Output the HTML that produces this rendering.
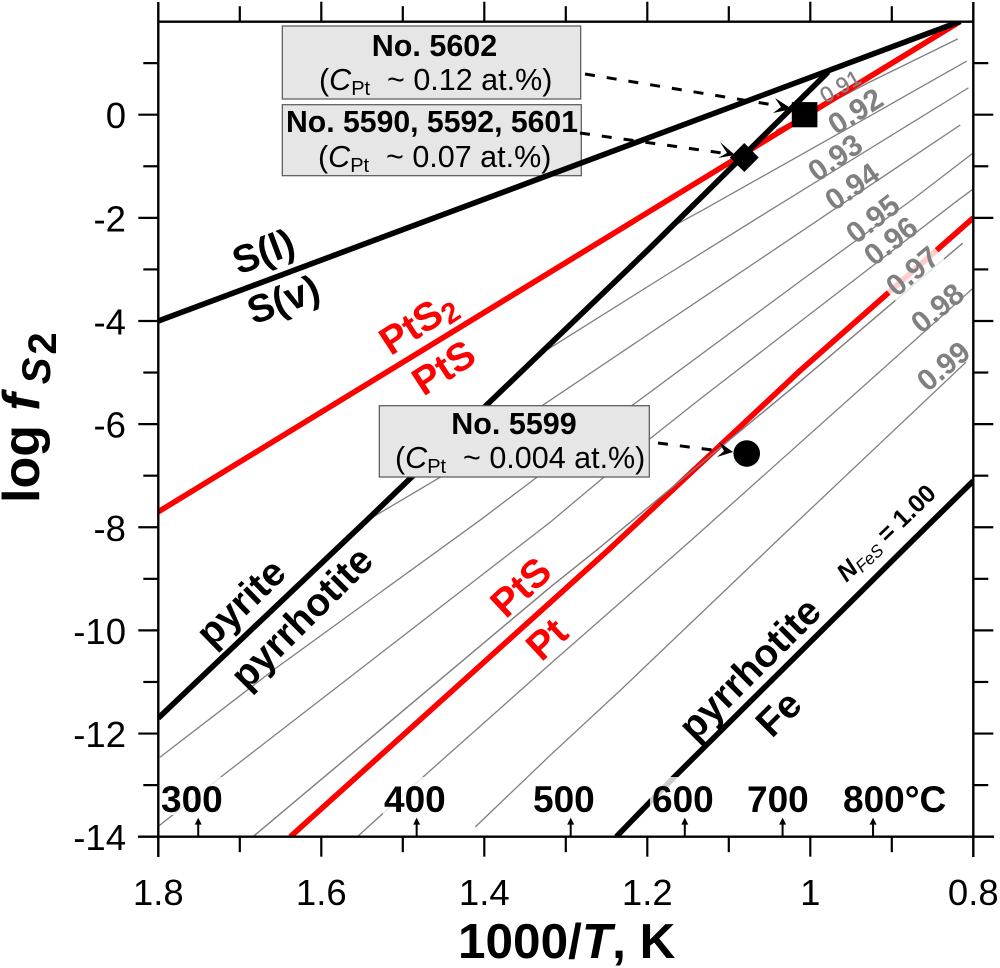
<!DOCTYPE html>
<html>
<head>
<meta charset="utf-8">
<title>log fS2 vs 1000/T</title>
<style>
html,body{margin:0;padding:0;background:#fff;}
svg{display:block;font-family:"Liberation Sans",sans-serif;}
.tl{font-size:36.5px;fill:#000;}
.t{font-size:37px;font-weight:bold;fill:#000;}
.p{font-size:39px;font-weight:bold;fill:#000;}
.r{font-size:39.5px;font-weight:bold;fill:#f00;}
.g{font-size:30px;font-weight:bold;fill:#808080;}
.b1{font-size:30.5px;font-weight:bold;fill:#000;}
.b2{font-size:30.5px;fill:#000;}
.box{fill:#e6e6e6;stroke:#555;stroke-width:1.2;}
.dash{stroke:#000;stroke-width:3;stroke-dasharray:10 12;fill:none;}
</style>
</head>
<body>
<svg id="chart" xmlns="http://www.w3.org/2000/svg" width="1000" height="968" viewBox="0 0 1000 968">
<defs><clipPath id="plot-clip"><rect x="158.3" y="21.7" width="815" height="815"/></clipPath></defs>
<g id="gray-layer" clip-path="url(#plot-clip)"></g>
<g>
<rect class="box" x="282.3" y="104.7" width="299" height="71"/>
<text class="b1" x="432" y="132" text-anchor="middle" textLength="292" lengthAdjust="spacingAndGlyphs">No. 5590, 5592, 5601</text>
<text class="b2" x="318" y="167">(<tspan font-style="italic">C</tspan><tspan font-size="20" dy="5">Pt</tspan><tspan dy="-5" xml:space="preserve">  ~ 0.07 at.%)</tspan></text>
</g>
<g id="line-layer" clip-path="url(#plot-clip)"></g>
<g>
<rect class="box" x="282.3" y="26" width="298.4" height="73"/>
<text class="b1" x="434.5" y="56" text-anchor="middle">No. 5602</text>
<text class="b2" x="319" y="90">(<tspan font-style="italic">C</tspan><tspan font-size="20" dy="5">Pt</tspan><tspan dy="-5" xml:space="preserve">  ~ 0.12 at.%)</tspan></text>
</g>
<g>
<rect class="box" x="379.3" y="405.7" width="270" height="71.3"/>
<text class="b1" x="514" y="434" text-anchor="middle">No. 5599</text>
<text class="b2" x="395" y="468">(<tspan font-style="italic">C</tspan><tspan font-size="20" dy="5">Pt</tspan><tspan dy="-5" xml:space="preserve">  ~ 0.004 at.%)</tspan></text>
</g>
<g>
<path class="dash" d="M585 74 L780 106"/>
<polygon points="792,109 775,98 781,107 773,113"/>
<path class="dash" d="M580 133 L722 153"/>
<polygon points="735,155 720,142 727,153 718,158"/>
<path class="dash" d="M658 443 L720 451"/>
<polygon points="733,452 719,442 724,451 717,457"/>
</g>
<g id="marker-layer"></g>
<g id="axis-layer"></g>
<g>
<rect x="160" y="777" width="62" height="38" fill="#fff" opacity="0.8"/>
<rect x="383" y="777" width="64" height="38" fill="#fff" opacity="0.8"/>
<rect x="533" y="777" width="62" height="38" fill="#fff" opacity="0.8"/>
<rect x="650" y="777" width="62" height="38" fill="#fff" opacity="0.8"/>
<text class="t" x="161" y="812">300</text>
<text class="t" x="384" y="812">400</text>
<text class="t" x="533" y="812">500</text>
<text class="t" x="652" y="812">600</text>
<text class="t" x="747" y="812">700</text>
<text class="t" x="843" y="812">800°C</text>
</g>
<g>
<text class="p" text-anchor="middle" transform="translate(268,264) rotate(-20.5)">S(l)</text>
<text class="p" text-anchor="middle" transform="translate(288,312) rotate(-20.5)">S(v)</text>
<text class="r" text-anchor="middle" transform="translate(425,334) rotate(-33)">PtS<tspan font-size="29" dy="6">2</tspan></text>
<text class="r" text-anchor="middle" transform="translate(451,379) rotate(-33)">PtS</text>
<text class="p" text-anchor="middle" transform="translate(250,612) rotate(-44)">pyrite</text>
<text class="p" text-anchor="middle" transform="translate(311,627) rotate(-45)">pyrrhotite</text>
<text class="r" text-anchor="middle" transform="translate(530,597) rotate(-43)">PtS</text>
<text class="r" text-anchor="middle" transform="translate(556,649) rotate(-43)">Pt</text>
<text class="p" text-anchor="middle" transform="translate(759,678) rotate(-45)">pyrrhotite</text>
<text class="p" text-anchor="middle" transform="translate(788,723) rotate(-45)">Fe</text>
<text font-size="25" font-weight="bold" text-anchor="middle" transform="translate(892,539) rotate(-44)"><tspan font-style="italic">N</tspan><tspan font-size="17" font-style="italic" font-weight="normal" dy="4">FeS</tspan><tspan dy="-4"> = 1.00</tspan></text>
</g>
<g>
<text font-size="22" fill="#808080" stroke="#808080" stroke-width="0.4" text-anchor="middle" transform="translate(844,93) rotate(-30)">0.91</text>
<text class="g" text-anchor="middle" transform="translate(861,120) rotate(-33)">0.92</text>
<text class="g" text-anchor="middle" transform="translate(841,166) rotate(-35)">0.93</text>
<text class="g" text-anchor="middle" transform="translate(858,195) rotate(-35)">0.94</text>
<text class="g" text-anchor="middle" transform="translate(879,227) rotate(-38)">0.95</text>
<text class="g" text-anchor="middle" transform="translate(897,249) rotate(-38)">0.96</text>
<rect x="-32" y="-25" width="64" height="27" fill="#fff" opacity="0.8" transform="translate(919,279) rotate(-40)"/>
<text class="g" text-anchor="middle" transform="translate(919,279) rotate(-40)">0.97</text>
<text class="g" text-anchor="middle" transform="translate(944,316) rotate(-40)">0.98</text>
<text class="g" text-anchor="middle" transform="translate(950,374) rotate(-40)">0.99</text>
</g>
<text x="458" y="958" font-size="49.5" font-weight="bold">1000/<tspan font-style="italic">T</tspan>, K</text>
<text font-size="52" font-weight="bold" transform="translate(39,503) rotate(-90)" xml:space="preserve">log <tspan font-style="italic">f</tspan><tspan font-size="40" font-style="italic" dy="11" dx="9">S</tspan><tspan font-size="40" dy="6" dx="3">2</tspan></text>
<script>
var xTickValues = [1.8, 1.7, 1.6, 1.5, 1.4, 1.3, 1.2, 1.1, 1.0, 0.9, 0.8];
var xTickLabels = ["1.8", "", "1.6", "", "1.4", "", "1.2", "", "1", "", "0.8"];
var yTickValues = [1, 0, -1, -2, -3, -4, -5, -6, -7, -8, -9, -10, -11, -12, -13, -14];
var yTickLabels = ["", "0", "", "-2", "", "-4", "", "-6", "", "-8", "", "-10", "", "-12", "", "-14"];
var tempArrowValues = [1.751, 1.483, 1.294, 1.154, 1.034, 0.923];

var sLineX = [1.8, 0.816];
var sLineY = [-4.0, 1.81];
var ptS2LineX = [1.8, 0.816];
var ptS2LineY = [-7.70, 1.81];
var pyriteLineX = [1.8, 1.544, 1.199, 0.978];
var pyriteLineY = [-11.70, -7.86, -2.62, 0.83];
var ptLineX = [1.638, 1.249, 1.013, 0.8];
var ptLineY = [-14.0, -8.46, -4.97, -2.0];
var feLineX = [1.238, 1.168, 0.874, 0.8];
var feLineY = [-14.0, -12.86, -8.25, -7.10];

var iso91X = [1.042, 0.988, 0.930, 0.819];
var iso91Y = [-0.30, 0.13, 0.61, 1.47];
var iso92X = [1.168, 1.132, 0.914, 0.808];
var iso92Y = [-2.16, -1.85, 0.09, 1.04];
var iso93X = [1.323, 1.187, 1.049, 0.806];
var iso93Y = [-4.56, -3.21, -1.85, 0.52];
var iso94X = [1.545, 1.454, 1.328, 1.099, 0.972, 0.816];
var iso94Y = [-7.88, -7.03, -5.63, -3.20, -1.85, -0.20];
var iso95X = [1.798, 1.659, 1.405, 1.218, 1.010, 0.875, 0.8];
var iso95Y = [-12.46, -10.77, -7.86, -5.63, -3.20, -1.65, -0.74];
var iso96X = [1.8, 1.728, 1.319, 1.199, 1.135, 1.013, 0.819, 0.8];
var iso96Y = [-13.80, -12.90, -7.90, -6.31, -5.51, -4.02, -1.66, -1.44];
var iso97X = [1.683, 1.319, 1.262, 1.114, 1.013, 0.813];
var iso97Y = [-13.99, -9.16, -8.44, -6.50, -5.18, -2.49];
var iso98X = [1.555, 1.475, 1.319, 1.146, 0.8];
var iso98Y = [-13.99, -12.84, -10.65, -8.25, -3.36];
var iso99X = [1.411, 1.319, 1.233, 1.040, 0.809];
var iso99Y = [-13.81, -12.42, -11.16, -8.25, -4.80];

var sampleSquare = [1.007, 0.0];
var sampleDiamond = [1.081, -0.83];
var sampleCircle = [1.078, -6.57];

var NS = "http://www.w3.org/2000/svg";
function sx(v) { return 158.3 + (1.8 - v) * 815; }
function sy(v) { return 114.7 - v * 51.57; }
function mk(tag, parent) { var e = document.createElementNS(NS, tag); parent.appendChild(e); return e; }
function pathFrom(xs, ys) {
  var d = "";
  for (var i = 0; i < xs.length; i++) d += (i ? "L" : "M") + sx(xs[i]).toFixed(2) + " " + sy(ys[i]).toFixed(2);
  return d;
}
function seg(parent, x1, y1, x2, y2, w) {
  var l = mk("line", parent);
  l.setAttribute("x1", x1); l.setAttribute("y1", y1);
  l.setAttribute("x2", x2); l.setAttribute("y2", y2);
  l.setAttribute("stroke", "#000"); l.setAttribute("stroke-width", w);
  return l;
}

var grayLayer = document.getElementById("gray-layer");
var isoX = [iso91X, iso92X, iso93X, iso94X, iso95X, iso96X, iso97X, iso98X, iso99X];
var isoY = [iso91Y, iso92Y, iso93Y, iso94Y, iso95Y, iso96Y, iso97Y, iso98Y, iso99Y];
for (var i = 0; i < isoX.length; i++) {
  var p = mk("path", grayLayer);
  p.setAttribute("d", pathFrom(isoX[i], isoY[i]));
  p.setAttribute("fill", "none");
  p.setAttribute("stroke", "#808080");
  p.setAttribute("stroke-width", "1.3");
  
  
}

var lineLayer = document.getElementById("line-layer");
function thick(xs, ys, color) {
  var p = mk("path", lineLayer);
  p.setAttribute("d", pathFrom(xs, ys));
  p.setAttribute("fill", "none");
  p.setAttribute("stroke", color);
  p.setAttribute("stroke-width", "5.6");
  return p;
}
var ptS2Path = thick(ptS2LineX, ptS2LineY, "#f00");


var ptPath = thick(ptLineX, ptLineY, "#f00");


var sPath = thick(sLineX, sLineY, "#000");


var pyritePath = thick(pyriteLineX, pyriteLineY, "#000");


var fePath = thick(feLineX, feLineY, "#000");


var isoOverlay = mk("path", lineLayer);
isoOverlay.setAttribute("d", pathFrom(iso97X, iso97Y));
isoOverlay.setAttribute("fill", "none");
isoOverlay.setAttribute("stroke", "#808080");
isoOverlay.setAttribute("stroke-width", "1.3");



var markers = document.getElementById("marker-layer");
var sq = mk("rect", markers);
sq.setAttribute("x", sx(sampleSquare[0]) - 12.8);
sq.setAttribute("y", sy(sampleSquare[1]) - 12.6);
sq.setAttribute("width", 25.6);
sq.setAttribute("height", 25.2);


var di = mk("polygon", markers);
var dx = sx(sampleDiamond[0]), dy = sy(sampleDiamond[1]);
di.setAttribute("points", (dx - 14.5) + "," + dy + " " + dx + "," + (dy - 14.5) + " " + (dx + 14.5) + "," + dy + " " + dx + "," + (dy + 14.5));


var ci = mk("circle", markers);
ci.setAttribute("cx", sx(sampleCircle[0]));
ci.setAttribute("cy", sy(sampleCircle[1]));
ci.setAttribute("r", 13.3);



var axis = document.getElementById("axis-layer");
var x0 = sx(1.8), x1 = sx(0.8), yB = sy(-14), yT = 21.7;
seg(axis, x0, 2, x0, 857, 2.4);
seg(axis, x1, 2, x1, 857, 2.4);
seg(axis, x0, yT, x1, yT, 2.4);
seg(axis, 138, yB, 994, yB, 2.4);
for (var i = 0; i < xTickValues.length; i++) {
  var px = sx(xTickValues[i]);
  var major = xTickLabels[i] !== "";
  if (i > 0 && i < xTickValues.length - 1) {
    seg(axis, px, yB, px, yB + (major ? 20 : 15.5), 2.2);
    seg(axis, px, yT, px, yT - (major ? 20 : 15.5), 2.2);
  }
  if (major) {
    var t = mk("text", axis);
    t.setAttribute("class", "tl");
    t.setAttribute("x", px);
    t.setAttribute("y", 905);
    t.setAttribute("text-anchor", "middle");
    
    
    t.textContent = xTickLabels[i];
  }
}
for (var j = 0; j < yTickValues.length; j++) {
  var py = sy(yTickValues[j]);
  var majorY = yTickLabels[j] !== "";
  var len = majorY ? 20 : 15;
  if (yTickValues[j] !== -14) {
    seg(axis, x0 - len, py, x0, py, 2.2);
    seg(axis, x1, py, x1 + len, py, 2.2);
  }
  if (majorY) {
    var ty = mk("text", axis);
    ty.setAttribute("class", "tl");
    ty.setAttribute("x", 126);
    ty.setAttribute("y", py + 13.5);
    ty.setAttribute("text-anchor", "end");
    
    
    ty.textContent = yTickLabels[j];
  }
}
for (var k = 0; k < tempArrowValues.length; k++) {
  var ax = sx(tempArrowValues[k]);
  seg(axis, ax, yB, ax, yB - 14, 2);
  var h = mk("polygon", axis);
  h.setAttribute("points", (ax - 3.5) + "," + (yB - 12) + " " + ax + "," + (yB - 19) + " " + (ax + 3.5) + "," + (yB - 12));
  
  
}
</script>
</svg>
</body>
</html>
